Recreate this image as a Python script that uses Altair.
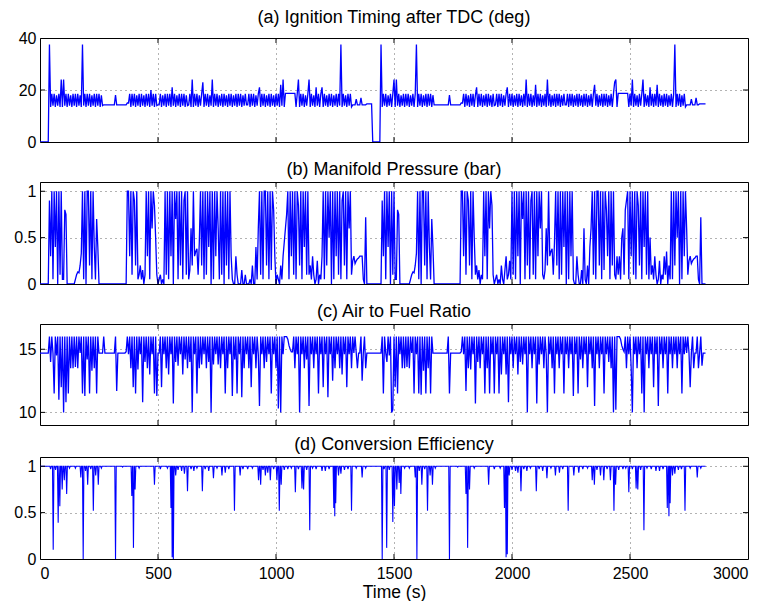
import altair as alt
import pandas as pd

STEP = 5  # sampling interval of the traces below (s), starting at t = 0

# (a) Ignition timing after TDC (deg), one row = 50 s
IGN = [
    0, 0, 0, 0, 0, 0, 0, 0, 37.5, 13.5,
    18.5, 14, 18.5, 13.5, 18, 14, 18.5, 13.5, 24, 13.5,
    24, 14, 18.5, 13.5, 18.5, 14, 18, 13.5, 18.5, 14,
    18.5, 13.5, 18.5, 14, 18, 13.5, 37.5, 14, 18.5, 13.5,
    18.5, 14, 18.5, 13.5, 18, 14, 18.5, 13.5, 18.5, 14,
    18.5, 13.5, 18, 14, 14.3, 14.3, 14.3, 14.3, 14.3, 14.3,
    14.3, 14.3, 14.3, 14.3, 18, 14.3, 14.3, 14.3, 14.3, 14.3,
    14.3, 14.3, 14.3, 14.3, 15, 15, 18.5, 13.5, 18.5, 14,
    18.5, 13.5, 18, 14, 18.5, 13.5, 18.5, 14, 18, 13.5,
    18.5, 14, 18.5, 13.5, 20, 14, 18.5, 13.5, 18.5, 14,
    14.3, 14.3, 18.5, 13.5, 18, 14, 18.5, 13.5, 18.5, 14,
    18.5, 13.5, 21, 14, 18.5, 13.5, 18, 14, 18.5, 13.5,
    18.5, 14, 18.5, 13.5, 18, 14, 14.3, 18.5, 13.5, 24,
    13.5, 18.5, 14, 18.5, 13.5, 18, 14, 18.5, 23, 13.5,
    18.5, 14, 18.5, 13.5, 18, 14, 24, 13.5, 18.5, 14,
    18.5, 13.5, 18, 14, 18.5, 13.5, 18.5, 14, 18, 13.5,
    18.5, 14, 18.5, 13.5, 18, 14, 18.5, 13.5, 18.5, 14,
    18.5, 13.5, 18, 14, 18.5, 14.3, 14.3, 18.5, 13.5, 18.5,
    14, 18.5, 13.5, 18, 14, 18.5, 21, 13.5, 18.5, 14,
    18.5, 13.5, 18, 14, 18.5, 13.5, 18.5, 14, 18, 13.5,
    18.5, 14, 18.5, 13.5, 22, 14, 24, 13.5, 18.7, 18.7,
    18.7, 18.7, 18.7, 18.7, 18.7, 18.7, 18.7, 13.5, 18.5, 24,
    13.5, 18.5, 14, 18.5, 13.5, 18, 14, 18.5, 24, 13.5,
    18.5, 14, 18, 13.5, 21, 14, 18.5, 13.5, 18.5, 21,
    13.5, 18.5, 14, 18, 13.5, 18.5, 14, 18.5, 13.5, 18,
    14, 18.5, 13.5, 18.5, 14, 37.5, 13.5, 18.5, 14, 18,
    13.5, 18.5, 14, 18.5, 13.5, 14.3, 14.3, 14.3, 16.5, 14.3,
    14.3, 14.3, 17, 14.3, 14.3, 14.3, 14.3, 14.7, 14.7, 14.7,
    14.7, 14.7, 0, 0, 0, 0, 0, 0, 0, 37.5,
    13.5, 18.5, 14, 18.5, 13.5, 18, 14, 18.5, 13.5, 18.5,
    24, 13.5, 24, 14, 18.5, 13.5, 18, 14, 18.5, 13.5,
    18.5, 14, 18.5, 13.5, 18, 14, 18.5, 13.5, 18.5, 37.5,
    13.5, 18.5, 14, 18.5, 13.5, 18, 14, 18.5, 13.5, 18.5,
    14, 18.5, 13.5, 18, 14.3, 14.3, 14.3, 14.3, 14.3, 14.3,
    14.3, 14.3, 14.3, 14.3, 14.3, 14.3, 14.3, 18, 14.3, 14.3,
    14.3, 14.3, 14.3, 14.3, 14.3, 14.3, 14.3, 15, 15, 18.5,
    13.5, 18.5, 14, 18, 13.5, 18.5, 14, 18.5, 13.5, 18,
    21, 13.5, 18.5, 14, 18.5, 13.5, 18, 14, 18.5, 13.5,
    18.5, 14, 18, 13.5, 18.5, 14, 14.3, 18.5, 13.5, 18.5,
    14, 18.5, 13.5, 18, 14, 18.5, 21, 13.5, 18.5, 14,
    18.5, 13.5, 18, 14, 18.5, 13.5, 18.5, 14, 18, 13.5,
    18.5, 14, 24, 13.5, 18.5, 14, 18.5, 13.5, 18, 14,
    22, 13.5, 18.5, 14, 18.5, 13.5, 18, 14, 18.5, 13.5,
    24, 14, 18.5, 13.5, 18, 14, 18.5, 13.5, 18.5, 14,
    18.5, 13.5, 18, 14, 18.5, 14.3, 14.3, 18.5, 13.5, 18.5,
    14, 18.5, 13.5, 18, 14, 18.5, 13.5, 18.5, 14, 18,
    13.5, 18.5, 14, 18.5, 13.5, 18, 14, 18.5, 13.5, 18.5,
    22, 14, 18.5, 13.5, 18, 14, 18.5, 13.5, 18.5, 14,
    18.5, 13.5, 18, 14, 18.5, 13.5, 18.5, 23, 24, 13.5,
    18.7, 18.7, 18.7, 18.7, 18.7, 18.7, 18.7, 18.7, 18.7, 13.5,
    18.5, 14, 24, 13.5, 18.5, 14, 18, 13.5, 18.5, 14,
    18.5, 24, 13.5, 18.5, 14, 18, 13.5, 21, 14, 18.5,
    13.5, 18.5, 14, 22, 13.5, 18.5, 14, 18, 13.5, 18.5,
    14, 18.5, 13.5, 18, 14, 18.5, 13.5, 18.5, 37.5, 13.5,
    18.5, 14, 18.5, 13.5, 18, 14, 18.5, 13.5, 14.3, 14.3,
    14.3, 14.3, 16.5, 14.3, 14.3, 14.3, 17, 14.3, 14.3, 14.7,
    14.7, 14.7, 14.7, 14.7, 14.7,
]

# (b) Manifold pressure (bar)
MAP = [
    0, 0, 0, 0, 0, 0, 0, 0,
    0.9, 0.3, 1, 0.05, 1, 0.4, 1, 0, 1, 0.1, 1, 0.05,
    0.05, 0.8, 0.75, 0,
    0, 0, 0, 0, 0, 0,
    0.05, 0.1, 0.13, 0.12, 0.2, 0.33,
    1, 0.05, 1, 0, 1, 1, 0.2, 1, 0.05, 1,
    0.4, 0.05, 0.7, 0.4, 0,
    0, 0, 0, 0, 0, 0, 0, 0, 0, 0, 0, 0, 0, 0, 0, 0, 0, 0, 0, 0, 0, 0, 0,
    1, 1, 0.3, 1, 0.1, 1, 0.9, 0.2, 1, 0.05,
    0.1, 0.2, 0.05, 0.15, 0, 0.1,
    1, 0.3, 1, 0.05, 1, 0.6, 1, 0.85, 0.5, 0.1,
    0, 0.05, 0.1, 0, 0.05, 0,
    1, 0.1, 1, 0.05, 1, 0.3, 1, 0, 1, 0.7, 1, 0.05, 1, 0.2, 1, 0.05, 0.9, 1, 0.1, 1,
    0.05, 0.15, 0.6, 0.2, 1, 0.3, 0.35, 0.38, 0.1, 0.45, 1, 0.2,
    1, 0.05, 1, 0.1, 1, 0.4, 1, 0, 1, 0.05, 1, 0.3, 1, 0.6, 0.05, 1, 0.1, 1, 0, 1,
    0.2, 1, 0.05, 1, 0.3,
    0.05, 0, 0, 0.3, 0.1, 0, 0, 0, 0.15, 0, 0, 0.1, 0, 0, 0, 0.05, 0, 0.2, 0, 0,
    0.4, 0.05,
    0.6, 1, 0.1, 1, 0.05, 1, 1, 0.2, 1, 0.05, 1, 0.15, 1, 0.8, 0.3,
    0, 0.1, 0.05, 0, 0.2, 0.05, 0.3, 0.45, 0.6, 0.75,
    1, 0.05, 1, 0.3, 1, 0.1, 1, 0.05, 1, 0.85, 0.2, 1, 0.05, 1, 0.4, 1, 0.1, 1,
    0.1, 0.2, 0.05, 0.3, 0.1, 0, 0.05, 0.25, 0, 0.1, 0.05, 0.3,
    1, 0.05, 1, 0.2, 1, 0.5, 1, 0, 1, 0.05, 1, 0.3, 1, 0.1, 1, 0.05, 0.9, 1, 0.2, 1,
    0.05, 1, 0.6, 1, 0.1,
    0.25, 0.3, 0.22, 0.25, 0.27, 0.28, 0.3, 0.3, 0.3, 0.05, 0, 0.72,
    0, 0, 0, 0, 0, 0, 0, 0, 0, 0, 0, 0, 0,
    0.9, 0.3, 1, 0.05, 1, 0.4, 1, 0, 1, 0.1, 1, 0.05,
    0.05, 0.8, 0.75, 0,
    0, 0, 0, 0, 0, 0, 0, 0,
    0.05, 0.1, 0.13, 0.12, 0.2, 0.33,
    1, 0.05, 1, 0, 1, 1, 0.2, 1, 0.05, 1,
    0.4, 0.05, 0.7, 0.4, 0,
    0, 0, 0, 0, 0, 0, 0, 0, 0, 0, 0, 0, 0, 0, 0, 0, 0, 0, 0, 0, 0, 0,
    1, 1, 0.3, 1, 0.1, 1, 0.9, 0.2, 1, 0.05, 1, 0.5,
    0.1, 0.2, 0.05, 0.15, 0, 0.1, 0.05,
    1, 0.3, 1, 0.05, 1, 0.6, 1, 0.85, 0.1,
    0, 0.05, 0.1, 0, 0.05, 0, 0.2, 0.05, 0, 0.15, 0.3, 0.05, 0.1, 0.25, 0.05,
    1, 0.1, 1, 0.05, 1, 0.3, 1, 0, 1, 0.7, 1, 0.05, 1, 0.2, 1, 0.05, 0.9, 1, 0.1, 1,
    0.05, 1, 0.3, 1, 0.6, 1, 0.1,
    0.05, 0.15, 0.6, 0.2, 1, 0.3, 0.35, 0.38, 0.1, 0.45, 1, 0.2,
    1, 0.05, 1, 0.1, 1, 0.4, 1, 0, 1, 0.05, 1, 0.3, 1, 0.05,
    0, 0, 0.3, 0.1, 0, 0, 0.15, 0, 0.6, 0.05, 0, 0.2, 0, 0.4,
    0.6, 1, 0.1, 1, 0.05, 1, 1, 0.2, 1, 0.05, 1, 0.15, 1, 0.8, 0.3,
    1, 0.05, 1, 0.2, 1, 0.1, 0.05, 0.3,
    0.1, 0.3, 0.05, 0.5, 0.6, 0.1, 0.8, 0.9, 1,
    0.05, 1, 0.3, 1, 0.1, 1, 0.05, 1, 0.85, 0.2, 1, 0.05, 1, 0.4, 1, 0.1, 1, 0.05, 0.5,
    0.1, 0.2, 0.05, 0.3, 0.1, 0, 0.05, 0.25, 0, 0.1, 0.05, 0.3, 0.1, 0.35, 0, 0.2, 0.05,
    1, 0.05, 1, 0.2, 1, 0.5, 1, 0, 1, 0.05, 1, 0.3, 1, 0.6, 0.1,
    0.25, 0.3, 0.22, 0.25, 0.27, 0.28, 0.3, 0.3, 0.05, 0, 0.72,
    0, 0, 0, 0,
]

# (c) Air to fuel ratio
AFR = [
    14.7, 14.7, 14.7, 14.7, 14.7, 14.7, 14.7, 14.7,
    16, 14, 16, 14.7, 11.5, 16, 14.5, 16, 11, 16, 12, 16, 10, 16, 10.8, 16, 11.5,
    16, 13.5, 16, 13.5, 16, 13.6, 16, 13.5, 16, 14.7, 16, 11.5, 16, 11.3, 16,
    14.2, 16, 11.5, 16, 13.3, 16, 13.5, 16, 11.5, 16, 14.7,
    14.7, 14.7, 14.7, 16, 14.7, 14.7, 14.7, 14.7, 14.7, 14.7, 14.7, 14.7, 14.7,
    16, 11.7, 14.7, 14.7, 14.7, 14.7, 14.7, 14.7, 14.7, 14.8,
    16, 14.6, 16, 13.5, 16, 12, 16, 11.5, 16, 13.4, 16, 14.6, 16, 10.8, 16, 14,
    16, 13.5, 16, 13, 16, 14.6, 16, 11.5, 16, 11.3,
    14.7, 14.7, 16, 12,
    16, 14.6, 16, 13.5, 16, 13, 16, 14.6, 16, 10.7, 16, 14, 16, 13.7, 16, 14.6,
    16, 13, 16, 14.2, 16, 13.5, 16,
    14, 16, 10, 16, 14.6, 16, 11.5, 16, 13.5, 16, 13.8, 16, 14.6, 16, 13.5, 16,
    14, 16, 10, 16, 13.8, 16, 14.6, 16, 13.8, 16,
    13.5, 16, 14.6, 16, 11.5, 16, 13.5, 16, 14.6, 16, 11.3, 16, 14.2, 16, 11.5, 16,
    14.6, 16, 11.2, 16, 13.5, 16, 14.6, 16, 13.5, 16, 12, 16, 14.6, 16, 13.5, 16, 14.6,
    10.5, 16, 14.6, 16, 13.5, 16, 14, 16, 14.6, 16, 11.5, 16, 14.6, 16, 13.5, 16,
    10.3, 16, 10, 16, 14.6, 16, 16, 16,
    15.8, 15.3, 15, 14.8, 14.8,
    16, 13.5, 16, 14.6, 16, 10, 16, 14.6, 16, 13.5, 16, 14.2, 16, 10.5, 16, 14.6,
    16, 13.5, 16, 14.6, 16, 11.5, 16, 14.6, 16,
    12, 16, 14.6, 16, 11.2, 16, 14.6, 16, 12.5, 16, 13.5, 16, 14.6, 16, 13.5, 16,
    13, 16, 14.6, 16, 12, 16, 14.6, 16, 13.5, 16,
    14.7, 16, 14.7, 13.5, 14.7, 14.7, 16, 12.5, 14.7, 16, 13.5,
    14.7, 14.7, 14.7, 14.7, 14.7, 14.7, 14.7, 14.7, 14.7, 14.7, 14.7, 14.7, 14.7,
    16, 11.5, 16, 14.7, 14, 16, 14.5, 16, 10, 10.2, 16, 12, 16, 11.5, 16, 14.6, 16,
    13.5, 16, 13.5, 16, 13.6, 16, 13.5, 16, 14.7, 16, 11.5, 16, 14.6, 16, 11.5,
    16, 11.4, 16, 13.3, 16, 11.5, 16, 13.5, 16, 11.5, 16,
    14.7, 14.7, 14.7, 14.7, 14.7, 14.7, 14.7, 14.7, 14.7, 14.7, 14.7, 14.7, 14.7,
    16, 11.5, 14.7, 14.7, 14.7, 14.7, 14.7, 14.7, 14.7, 14.7, 14.7, 14.8,
    16, 14.6, 16, 11.7, 16, 13.5, 16, 13.4, 16, 14.6, 16, 10.7, 16, 14, 16, 13.5,
    16, 14.6, 16, 11.5, 16, 13.5, 16, 11.5, 16, 14.6, 16, 11.5,
    16, 14.6, 16, 11.5, 16, 13, 16, 14.6, 16, 13, 16, 10.8, 16, 14.6, 16,
    13.5, 16, 14.6, 16, 13, 16, 14, 16, 13.8, 16, 14.6, 16, 10, 16, 14.6, 16,
    13.5, 16, 14.6, 16, 10.7, 16, 13.8, 16,
    14.6, 16, 13.5, 16, 14.6, 10, 16, 14.6, 16, 13.5, 16, 11.5, 16, 14.6, 16,
    13.5, 16, 14.6, 16, 11.5, 16, 14.6, 16, 13.5, 16,
    14.6, 16, 11.3, 16, 14.6, 16, 11.5, 16, 14.2, 16, 13.5, 16, 14.6, 16, 12, 16,
    14.6, 16, 13.5, 16, 10.5, 16, 14.6, 16, 13.5, 16, 14.6, 16, 11.5, 16, 14.6, 16,
    14, 16, 13.5, 16, 10, 16, 10.2,
    16, 16, 16, 15.8, 15.3, 15, 14.8,
    16, 13.5, 16, 14.6, 16, 13.5, 10, 16, 14.6, 16, 13.5, 16, 14.6, 16, 11.5, 16,
    10, 16, 14.6, 16, 13.5, 16, 14.6, 16, 12,
    16, 14.6, 16, 10.5, 16, 14.6, 16, 13.5, 16, 14.6, 16, 11.5, 16, 14.6, 16, 13.5,
    16, 14.6, 16, 13.5, 16, 14.6, 16, 11.5, 16, 14.6, 16,
    14.7, 16, 14.7, 12, 14.7, 16, 13.5, 14.7, 14.7, 16, 13.5, 14.7, 16,
    13.7, 14.7, 14.7, 14.7,
]

# (d) Conversion efficiency: level 1 with downward spikes (time s, value)
EFF_BASE = 1.0
EFF_END = 2820
EFF_DIP_T = [
    45, 56, 66, 77, 84, 94, 103, 113, 125, 150, 173, 183, 193, 202, 215, 226,
    236, 247, 260, 320, 350, 389, 396, 403, 420, 485, 510, 540, 555, 560, 565,
    575, 585, 600, 612, 625, 640, 652, 665, 688, 700, 715, 735, 750, 771, 785,
    800, 824, 848, 860, 880, 900, 926, 935, 945, 955, 965, 976, 990, 1004,
    1014, 1022, 1035, 1050, 1065, 1082, 1095, 1110, 1117, 1130, 1143, 1155,
    1170, 1195, 1209, 1225, 1245, 1249, 1253, 1265, 1275, 1290, 1305, 1320,
    1340, 1365, 1380,
    1450, 1458, 1469, 1480, 1495, 1502, 1512, 1522, 1529, 1545, 1565, 1590,
    1597, 1607, 1618, 1630, 1642, 1653, 1663, 1675, 1735, 1770, 1805, 1812,
    1820, 1840, 1901, 1925, 1950, 1968, 1975, 1980, 1988, 2000, 2015, 2025,
    2038, 2050, 2063, 2078, 2103, 2115, 2130, 2148, 2165, 2184, 2201, 2215,
    2238, 2262, 2283, 2300, 2320, 2340, 2349, 2360, 2375, 2389, 2403, 2417,
    2432, 2439, 2452, 2470, 2482, 2495, 2510, 2526, 2533, 2545, 2559, 2572,
    2590, 2610, 2625, 2640, 2658, 2665, 2670, 2680, 2690, 2705, 2718, 2733,
    2755, 2785, 2800,
]
EFF_DIP_V = [
    0.97, 0.1, 0.96, 0.39, 0.57, 0.75, 0.85, 0.7, 0.98, 0.98, 0.88, 0.0, 0.95, 0.8, 0.97, 0.52,
    0.9, 0.8, 0.98, 0.0, 0.99, 0.68, 0.12, 0.75, 0.98, 0.8, 0.97, 0.98, 0.55, 0.02, 0.0,
    0.9, 0.96, 0.95, 0.92, 0.73, 0.97, 0.95, 0.98, 0.73, 0.97, 0.95, 0.87, 0.98, 0.9, 0.93,
    0.97, 0.52, 0.9, 0.97, 0.97, 0.98, 0.85, 0.8, 0.96, 0.9, 0.93, 0.85, 0.97, 0.85,
    0.52, 0.8, 0.96, 0.97, 0.98, 0.72, 0.97, 0.76, 0.75, 0.96, 0.31, 0.98,
    0.97, 0.95, 0.95, 0.97, 0.55, 0.46, 0.6, 0.9, 0.92, 0.96, 0.97, 0.52,
    0.98, 0.88, 0.98,
    0.0, 0.97, 0.12, 0.96, 0.4, 0.57, 0.75, 0.82, 0.7, 0.98, 0.98, 0.88,
    0.0, 0.95, 0.8, 0.97, 0.52, 0.9, 0.8, 0.98, 0.0, 0.99, 0.7, 0.12,
    0.75, 0.98, 0.8, 0.97, 0.98, 0.55, 0.02, 0.05, 0.9, 0.96, 0.95, 0.93,
    0.73, 0.97, 0.95, 0.98, 0.73, 0.97, 0.95, 0.87, 0.98, 0.9, 0.93, 0.97,
    0.52, 0.9, 0.93, 0.97, 0.98, 0.85, 0.8, 0.96, 0.9, 0.85, 0.97, 0.85,
    0.52, 0.8, 0.96, 0.97, 0.98, 0.72, 0.97, 0.76, 0.75, 0.96, 0.31, 0.98,
    0.97, 0.95, 0.95, 0.97, 0.55, 0.46, 0.6, 0.9, 0.92, 0.96, 0.97, 0.52,
    0.98, 0.88, 0.98,
]

TITLES = [
    "(a) Ignition Timing after TDC (deg)",
    "(b) Manifold Pressure (bar)",
    "(c) Air to Fuel Ratio",
    "(d) Conversion Efficiency",
]
X_TICKS = [0, 500, 1000, 1500, 2000, 2500, 3000]
X_TITLE = "Time (s)"

FONT = "Liberation Sans"
BLUE = "#0000ff"
W = 708
SPIKE_HALF = 3  # half base of a drawn spike (s)


def grid_df(values):
    return pd.DataFrame({"t": [i * STEP for i in range(len(values))], "v": values})


def eff_df():
    ts, vs = [0], [EFF_BASE]
    for t, v in zip(EFF_DIP_T, EFF_DIP_V):
        ts += [t - SPIKE_HALF, t, t + SPIKE_HALF]
        vs += [EFF_BASE, v, EFF_BASE]
    ts.append(EFF_END)
    vs.append(EFF_BASE)
    return pd.DataFrame({"t": ts, "v": vs})


def panel(df, title, ydom, yticks, h, bottom, sw):
    xscale = alt.Scale(domain=[0, 3000], nice=False, zero=False)
    yscale = alt.Scale(domain=ydom, nice=False, zero=False)
    xaxis = alt.Axis(values=X_TICKS, grid=True, ticks=False, domain=False,
                     labels=bottom, labelPadding=6, format="d", titlePadding=2)
    yaxis = alt.Axis(values=yticks, grid=True, ticks=False, domain=False,
                     format=".2~f", labelPadding=4)
    if bottom:
        xenc = alt.X("t:Q", scale=xscale, title=X_TITLE, axis=xaxis)
        tx = alt.X("t:Q", scale=xscale, title=X_TITLE, axis=xaxis)
    else:
        xenc = alt.X("t:Q", scale=xscale, title=None, axis=xaxis)
        tx = alt.X("t:Q", scale=xscale, title=None, axis=xaxis)
    yenc = alt.Y("v:Q", scale=yscale, title=None, axis=yaxis)
    ty = alt.Y("v:Q", scale=yscale, title=None, axis=yaxis)

    line = alt.Chart(df).mark_line(color=BLUE, strokeWidth=sw, clip=True).encode(x=xenc, y=yenc)

    xt = pd.DataFrame({"t": X_TICKS[1:-1]})
    yt = pd.DataFrame({"v": [v for v in yticks if ydom[0] < v < ydom[1]]})
    top_t = alt.Chart(xt).mark_rule(color="black").encode(x=tx, y=alt.value(0), y2=alt.value(5))
    bot_t = alt.Chart(xt).mark_rule(color="black").encode(x=tx, y=alt.value(h), y2=alt.value(h - 5))
    lef_t = alt.Chart(yt).mark_rule(color="black").encode(y=ty, x=alt.value(0), x2=alt.value(5))
    rig_t = alt.Chart(yt).mark_rule(color="black").encode(y=ty, x=alt.value(W), x2=alt.value(W - 5))
    return alt.layer(line, top_t, bot_t, lef_t, rig_t).properties(
        width=W, height=h,
        title=alt.TitleParams(title, font=FONT, fontSize=18, fontWeight="normal",
                              color="black", offset=3),
    )


pa = panel(grid_df(IGN), TITLES[0], [0, 40], [0, 20, 40], 104, False, 1.3)
pb = panel(grid_df(MAP), TITLES[1], [0, 1.1], [0, 0.5, 1], 102, False, 1.3)
pc = panel(grid_df(AFR), TITLES[2], [9, 17], [10, 15], 101, False, 1.3)
pd_ = panel(eff_df(), TITLES[3], [0, 1.1], [0, 0.5, 1], 102, True, 1.1)

chart = alt.vconcat(pa, pb, pc, pd_, spacing=9).properties(
    padding={"left": 5, "top": 0, "right": 0, "bottom": 0}
).configure_view(stroke="black", strokeWidth=1).configure_axis(
    labelFont=FONT, labelFontSize=16, labelColor="black",
    titleFont=FONT, titleFontSize=17.5, titleFontWeight="normal", titleColor="black",
    gridColor="#000000", gridOpacity=0.6, gridDash=[1, 4], gridWidth=1,
)

chart.save("out.html", embed_options={"renderer": "svg", "actions": False})
